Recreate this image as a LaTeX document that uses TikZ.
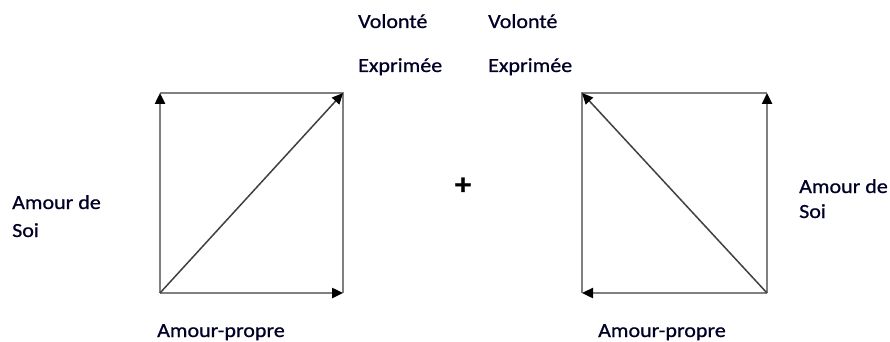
\documentclass[tikz,border=0pt]{standalone}
\usepackage{fontspec}
\setmainfont{Carlito}[FakeStretch=1.1,FakeBold=0.8]
\usetikzlibrary{arrows.meta}
\tikzset{
  side/.style={draw=black!50, line width=2.4pt},
  diag/.style={draw=black!75, line width=1.5pt},
  tip/.style={-{Triangle[length=11pt,width=10pt,color=black]}},
  lbl/.style={font=\fontsize{20}{24}\selectfont, text=black!85!blue, inner sep=0pt, anchor=base west},
}
\begin{document}
\begin{tikzpicture}[x=1pt,y=-1pt]
\useasboundingbox (0,0) rectangle (890,342);
% left square
\coordinate (lbl) at (160,293);
\coordinate (ltl) at (160,93);
\coordinate (ltr) at (343,93);
\coordinate (lbr) at (343,293);
\draw[side] (ltl) -- (ltr) -- (lbr);
\draw[side,tip] (lbl) -- (ltl);
\draw[side,tip] (lbl) -- (lbr);
\draw[diag,tip] (lbl) -- (ltr);
% right square
\coordinate (rbl) at (582,293);
\coordinate (rtl) at (582,93);
\coordinate (rtr) at (767,93);
\coordinate (rbr) at (767,293);
\draw[side] (rbl) -- (rtl) -- (rtr);
\draw[side,tip] (rbr) -- (rtr);
\draw[side,tip] (rbr) -- (rbl);
\draw[diag,tip] (rbr) -- (rtl);
% labels
\node[lbl] (v1) at (358,28) {Volonté};
\node[lbl] (v2) at (488,28) {Volonté};
\node[lbl] (e1) at (358,72) {Exprimée};
\node[lbl] (e2) at (488,72) {Exprimée};
\node[lbl] (a1) at (12,209) {Amour de};
\node[lbl] (s1) at (12,237) {Soi};
\node[lbl] (a2) at (799,193) {Amour de};
\node[lbl] (s2) at (799,218) {Soi};
\node[lbl] (p1) at (157,337) {Amour-propre};
\node[lbl] (p2) at (598,337) {Amour-propre};
\node[font=\fontsize{30}{30}\bfseries\selectfont, inner sep=0pt] (plus) at (463,186) {+};
\end{tikzpicture}
\end{document}
